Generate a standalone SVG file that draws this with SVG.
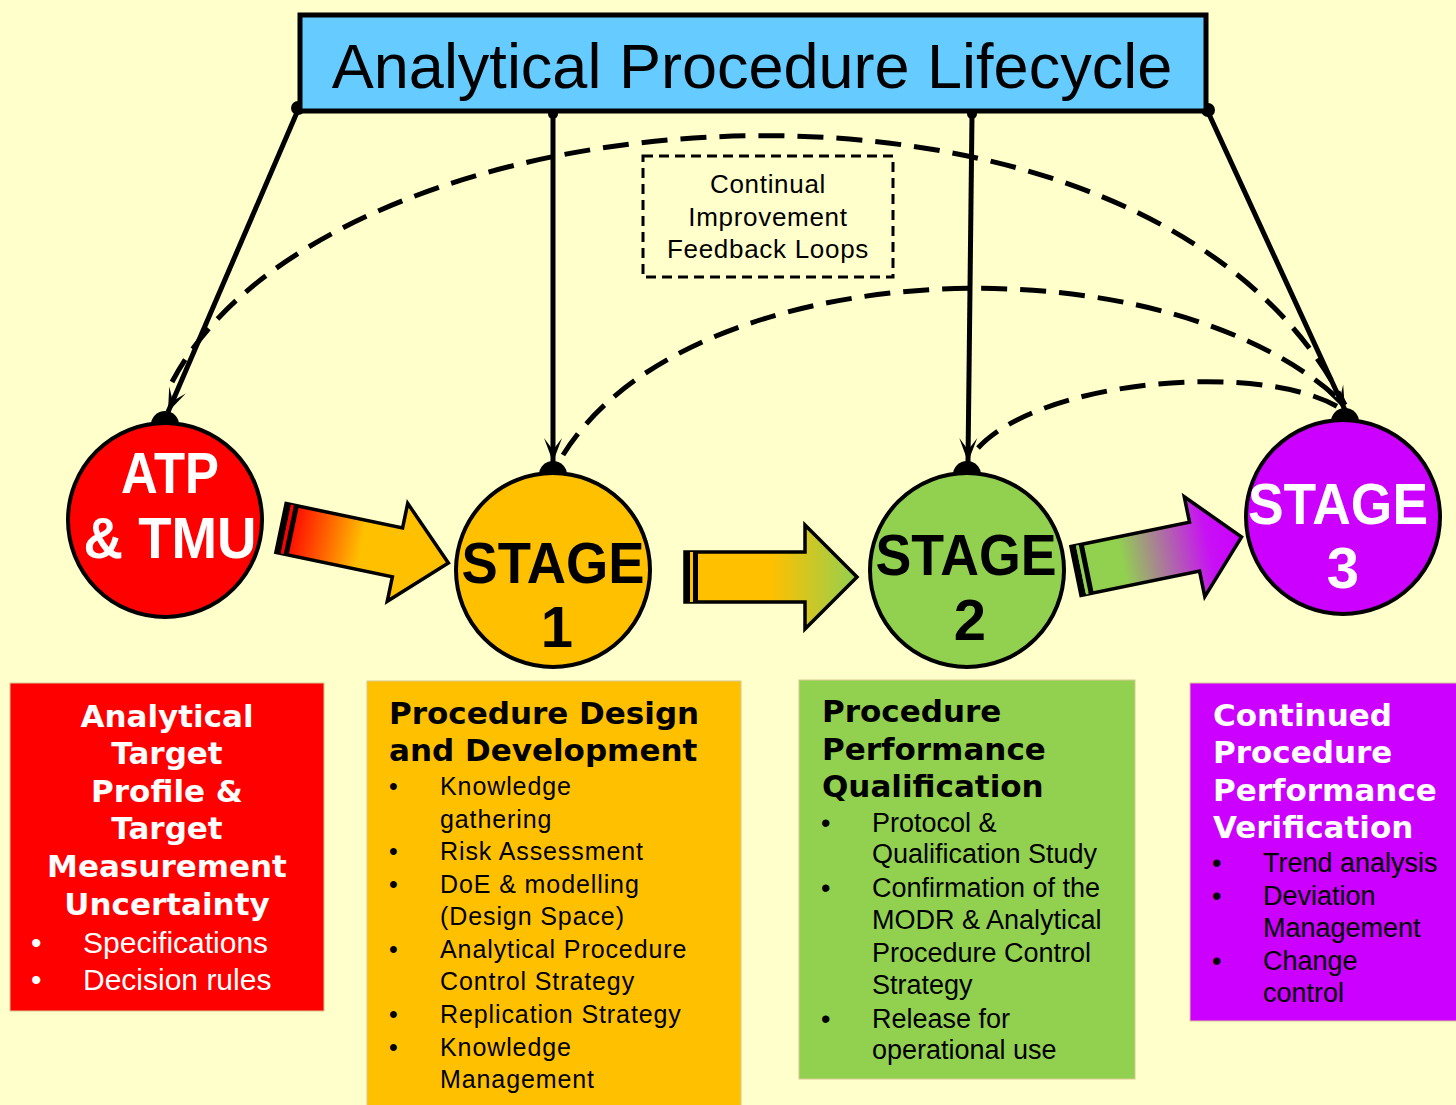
<svg xmlns="http://www.w3.org/2000/svg" width="1456" height="1105" viewBox="0 0 1456 1105">
  <defs>
    <style>
      .dash { fill: none; stroke: #000; stroke-width: 5; stroke-dasharray: 26 13; }
      .solid { fill: none; stroke: #000; stroke-width: 5; }
      .knob { fill: #000; }
      .stage { stroke: #000; stroke-width: 4; }
      .ctext { font-family: "Liberation Sans", Arial, sans-serif; font-weight: bold; text-anchor: middle; }
      .head { font-family: "DejaVu Sans", Verdana, sans-serif; font-weight: bold; font-size: 31px; }
      .body { font-family: "Liberation Sans", Arial, sans-serif; }
      .blk { stroke: #000; stroke-width: 3.5; stroke-linejoin: miter; }
    </style>
    <marker id="barb" viewBox="-26 -10 28 20" refX="0" refY="0" markerWidth="28" markerHeight="20" markerUnits="userSpaceOnUse" orient="auto">
      <path d="M0,0 L-24,-9 L-12,0 L-24,9 Z" fill="#000"/>
    </marker>
    <linearGradient id="g1" gradientUnits="userSpaceOnUse" x1="0" y1="0" x2="171" y2="0">
      <stop offset="0.07" stop-color="#FF1000"/>
      <stop offset="0.25" stop-color="#FF5A00"/>
      <stop offset="0.48" stop-color="#FFC000"/>
      <stop offset="1" stop-color="#FFC000"/>
    </linearGradient>
    <linearGradient id="g2" gradientUnits="userSpaceOnUse" x1="0" y1="0" x2="172" y2="0">
      <stop offset="0" stop-color="#FFC000"/>
      <stop offset="0.5" stop-color="#FFC000"/>
      <stop offset="1" stop-color="#92D050"/>
    </linearGradient>
    <linearGradient id="g3" gradientUnits="userSpaceOnUse" x1="0" y1="0" x2="169" y2="0">
      <stop offset="0" stop-color="#92D050"/>
      <stop offset="0.28" stop-color="#92D050"/>
      <stop offset="0.8" stop-color="#C810F5"/>
      <stop offset="1" stop-color="#CC00FF"/>
    </linearGradient>
  </defs>

  <!-- page background -->
  <rect x="0" y="0" width="1456" height="1105" fill="#FFFFCC"/>

  <!-- feedback loops and lifecycle links -->
  <g id="connectors">
    <path class="dash" d="M172,382 C330,80 1150,20 1345,405"/>
    <path class="dash" d="M563,455 C690,250 1170,235 1345,405"/>
    <path class="dash" d="M978,448 C1040,380 1260,360 1340,408"/>

    <line class="solid" x1="298" y1="110" x2="168" y2="412" marker-end="url(#barb)"/>
    <line class="solid" x1="553" y1="115" x2="553" y2="462" marker-end="url(#barb)"/>
    <line class="solid" x1="972" y1="115" x2="968" y2="462" marker-end="url(#barb)"/>
    <line class="solid" x1="1208" y1="112" x2="1345" y2="410" marker-end="url(#barb)"/>

    <circle class="knob" cx="298" cy="108" r="7"/>
    <circle class="knob" cx="553" cy="114" r="5"/>
    <circle class="knob" cx="972" cy="114" r="5"/>
    <circle class="knob" cx="1208" cy="110" r="7"/>

    <circle class="knob" cx="165" cy="425" r="14"/>
    <circle class="knob" cx="553" cy="475" r="14"/>
    <circle class="knob" cx="967" cy="475" r="14"/>
    <circle class="knob" cx="1345" cy="422" r="14"/>
  </g>

  <!-- dashed note -->
  <g id="note">
    <rect x="643" y="156" width="250" height="121" fill="none" stroke="#000" stroke-width="3" stroke-dasharray="10 6"/>
    <g class="body" font-size="26" letter-spacing="0.7" text-anchor="middle" fill="#000">
      <text x="768" y="193">Continual</text>
      <text x="768" y="226">Improvement</text>
      <text x="768" y="258">Feedback Loops</text>
    </g>
  </g>

  <!-- stage circles -->
  <g id="atp">
    <circle class="stage" cx="165" cy="520" r="97" fill="#FF0000"/>
    <text class="ctext" x="170" y="493" font-size="57" fill="#FFF" textLength="98" lengthAdjust="spacingAndGlyphs">ATP</text>
    <text class="ctext" x="170" y="558" font-size="57" fill="#FFF" textLength="173" lengthAdjust="spacingAndGlyphs">&amp; TMU</text>
  </g>
  <g id="stage1">
    <circle class="stage" cx="553" cy="570" r="97" fill="#FFC000"/>
    <text class="ctext" x="553" y="583" font-size="58" fill="#000" textLength="183" lengthAdjust="spacingAndGlyphs">STAGE</text>
    <text class="ctext" x="557" y="647" font-size="58" fill="#000">1</text>
  </g>
  <g id="stage2">
    <circle class="stage" cx="967" cy="570" r="97" fill="#92D050"/>
    <text class="ctext" x="966" y="575" font-size="58" fill="#000" textLength="181" lengthAdjust="spacingAndGlyphs">STAGE</text>
    <text class="ctext" x="970" y="640" font-size="58" fill="#000">2</text>
  </g>
  <g id="stage3">
    <circle class="stage" cx="1343" cy="517" r="97" fill="#CC00FF"/>
    <text class="ctext" x="1338" y="524" font-size="58" fill="#FFF" textLength="180" lengthAdjust="spacingAndGlyphs">STAGE</text>
    <text class="ctext" x="1343" y="588" font-size="58" fill="#FFF">3</text>
  </g>

  <!-- block arrows between stages -->
  <g id="arrow-atp-s1" transform="translate(281,528) rotate(11.8)">
    <path class="blk" fill="url(#g1)" d="M0,-25 L119,-25 L119,-50 L171,0 L119,50 L119,25 L0,25 Z"/>
    <rect x="0" y="-25" width="5" height="50" fill="#000"/>
    <rect x="5" y="-25" width="3" height="50" fill="#FF0000"/>
    <rect x="8" y="-25" width="5" height="50" fill="#000"/>
  </g>
  <g id="arrow-s1-s2" transform="translate(685,577)">
    <path class="blk" fill="url(#g2)" d="M0,-25 L120,-25 L120,-52 L172,0 L120,52 L120,25 L0,25 Z"/>
    <rect x="0" y="-25" width="5" height="50" fill="#000"/>
    <rect x="5" y="-25" width="3" height="50" fill="#FFC000"/>
    <rect x="8" y="-25" width="5" height="50" fill="#000"/>
  </g>
  <g id="arrow-s2-s3" transform="translate(1076,571) rotate(-11.6)">
    <path class="blk" fill="url(#g3)" d="M0,-25 L121,-25 L121,-51 L169,0 L121,51 L121,25 L0,25 Z"/>
    <rect x="0" y="-25" width="5" height="50" fill="#000"/>
    <rect x="5" y="-25" width="3" height="50" fill="#92D050"/>
    <rect x="8" y="-25" width="5" height="50" fill="#000"/>
  </g>

  <!-- description boxes -->
  <g id="box-atp">
    <rect x="10" y="683" width="314" height="328" fill="#FF0000" stroke="#D8C890" stroke-width="1"/>
    <g class="head" fill="#FFF" text-anchor="middle">
      <text x="167" y="727">Analytical</text>
      <text x="167" y="764">Target</text>
      <text x="167" y="802">Profile &amp;</text>
      <text x="167" y="839">Target</text>
      <text x="167" y="877">Measurement</text>
      <text x="167" y="915">Uncertainty</text>
    </g>
    <g class="body" font-size="30" fill="#FFF">
      <text x="31" y="953">•</text>
      <text x="83" y="953">Specifications</text>
      <text x="31" y="990">•</text>
      <text x="83" y="990">Decision rules</text>
    </g>
  </g>

  <g id="box-stage1">
    <rect x="367" y="681" width="374" height="430" fill="#FFC000" stroke="#D8C890" stroke-width="1"/>
    <g class="head" fill="#000">
      <text x="389" y="724">Procedure Design</text>
      <text x="389" y="761">and Development</text>
    </g>
    <g class="body" font-size="25" letter-spacing="0.9" fill="#000">
      <text x="389" y="795">•</text>
      <text x="440" y="795">Knowledge</text>
      <text x="440" y="828">gathering</text>
      <text x="389" y="860">•</text>
      <text x="440" y="860">Risk Assessment</text>
      <text x="389" y="893">•</text>
      <text x="440" y="893">DoE &amp; modelling</text>
      <text x="440" y="925">(Design Space)</text>
      <text x="389" y="958">•</text>
      <text x="440" y="958">Analytical Procedure</text>
      <text x="440" y="990">Control Strategy</text>
      <text x="389" y="1023">•</text>
      <text x="440" y="1023">Replication Strategy</text>
      <text x="389" y="1056">•</text>
      <text x="440" y="1056">Knowledge</text>
      <text x="440" y="1088">Management</text>
    </g>
  </g>

  <g id="box-stage2">
    <rect x="799" y="680" width="336" height="399" fill="#92D050" stroke="#D8C890" stroke-width="1"/>
    <g class="head" fill="#000">
      <text x="822" y="722">Procedure</text>
      <text x="822" y="760">Performance</text>
      <text x="822" y="797">Qualification</text>
    </g>
    <g class="body" font-size="27" fill="#000">
      <text x="821" y="832">•</text>
      <text x="872" y="832">Protocol &amp;</text>
      <text x="872" y="863">Qualification Study</text>
      <text x="821" y="897">•</text>
      <text x="872" y="897">Confirmation of the</text>
      <text x="872" y="929">MODR &amp; Analytical</text>
      <text x="872" y="962">Procedure Control</text>
      <text x="872" y="994">Strategy</text>
      <text x="821" y="1028">•</text>
      <text x="872" y="1028">Release for</text>
      <text x="872" y="1059">operational use</text>
    </g>
  </g>

  <g id="box-stage3">
    <rect x="1190" y="683" width="270" height="338" fill="#CC00FF" stroke="#D8C890" stroke-width="1"/>
    <g class="head" fill="#FFF">
      <text x="1213" y="726">Continued</text>
      <text x="1213" y="763">Procedure</text>
      <text x="1213" y="801">Performance</text>
      <text x="1213" y="838">Verification</text>
    </g>
    <g class="body" font-size="27" fill="#000">
      <text x="1212" y="872">•</text>
      <text x="1263" y="872">Trend analysis</text>
      <text x="1212" y="905">•</text>
      <text x="1263" y="905">Deviation</text>
      <text x="1263" y="937">Management</text>
      <text x="1212" y="970">•</text>
      <text x="1263" y="970">Change</text>
      <text x="1263" y="1002">control</text>
    </g>
  </g>

  <!-- lifecycle title -->
  <g id="title">
    <rect x="300" y="15" width="906" height="96" fill="#66CCFF" stroke="#000" stroke-width="5"/>
    <text x="752" y="88" font-family="Liberation Sans, Arial, sans-serif" font-size="63" text-anchor="middle" fill="#000">Analytical Procedure Lifecycle</text>
  </g>
</svg>
